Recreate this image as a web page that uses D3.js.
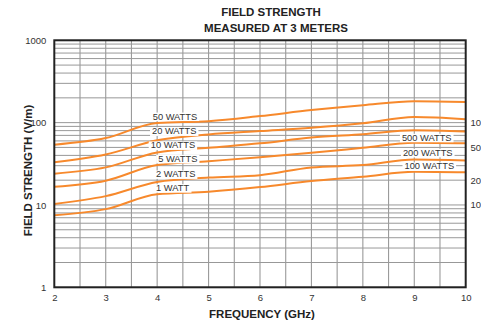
<!DOCTYPE html>
<html>
<head>
<meta charset="utf-8">
<script src="https://cdn.jsdelivr.net/npm/d3@7"></script>
<style>
  body { margin: 0; background: #fff; }
  svg { display: block; font-family: "Liberation Sans", Arial, Helvetica, sans-serif; }
</style>
</head>
<body>
<svg id="chart" width="481" height="325"></svg>
<script>
// ---- data ----
const frequencies = [2, 3, 4, 5, 6, 7, 8, 9, 10];
const seriesNames = ["50 WATTS", "20 WATTS", "10 WATTS", "5 WATTS", "2 WATTS", "1 WATT"];
const watts50 = [54, 65, 99, 104, 120, 142, 163, 182, 178];
const watts20 = [33, 41, 61, 72, 79, 86.5, 98, 117, 110];
const watts10 = [24, 28.6, 43.5, 49.5, 56, 66, 72.5, 81, 78];
const watts5  = [16.6, 19.7, 30.5, 34, 38, 43, 49.5, 57, 56];
const watts2  = [10.3, 12.8, 19, 21.5, 23, 28.6, 30.5, 35.7, 34.8];
const watts1  = [7.5, 8.9, 13.5, 14.5, 16.5, 19.5, 22, 25.3, 24.9];
const seriesValues = [watts50, watts20, watts10, watts5, watts2, watts1];

// label anchors in data units (GHz, V/m)
const leftLabelFreq  = [3.914, 3.90, 3.875, 4.02, 3.98, 3.98];
const leftLabelValue = [109, 71.9, 48.6, 33.4, 21.6, 14.7];
const rightLabels      = ["500 WATTS", "200 WATTS", "100 WATTS"];
const rightLabelFreq   = [8.76, 8.78, 8.81];
const rightLabelValue  = [60.2, 39.5, 27];

const xTicks = [2, 3, 4, 5, 6, 7, 8, 9, 10];
const yTicks = [1, 10, 100, 1000];
const yTickLabels = ["1", "10", "100", "1000"];
const rightTicks = [100, 50, 20, 10];
const rightTickLabels = ["10", "50", "20", "10"];

const titleLines = ["FIELD STRENGTH", "MEASURED AT 3 METERS"];
const xTitle = "FREQUENCY (GHz)";
const yTitle = "FIELD STRENGTH (V/m)";

// ---- layout ----
const svg = d3.select("#chart");
const pLeft = 54.3, pRight = 465.7, pTop = 40.3, pBottom = 287.3;

const x = d3.scaleLinear().domain([2, 10]).range([pLeft, pRight]);
const y = d3.scaleLog().domain([1, 1000]).range([pBottom, pTop]);

const orange = "#f7892c";
const grid = "#8c8c8c";

// horizontal grid (log)
const hLines = [];
for (let d = 0; d < 3; d++) for (let k = 1; k <= 9; k++) hLines.push(k * Math.pow(10, d));
hLines.push(1000);
svg.append("g").selectAll("line").data(hLines).join("line")
  .attr("x1", pLeft).attr("x2", pRight)
  .attr("y1", d => y(d)).attr("y2", d => y(d))
  .attr("stroke", grid).attr("stroke-width", 0.9);

// vertical grid each 0.5 GHz
const vLines = d3.range(2.5, 10, 0.5);
svg.append("g").selectAll("line").data(vLines).join("line")
  .attr("x1", d => x(d)).attr("x2", d => x(d))
  .attr("y1", pTop).attr("y2", pBottom)
  .attr("stroke", "#9a9a9a").attr("stroke-width", 1.1);

// curves
const line = d3.line()
  .x((d, i) => x(frequencies[i]))
  .y(d => y(d))
  .curve(d3.curveMonotoneX);
svg.append("g").selectAll("path").data(seriesValues).join("path")
  .attr("d", line)
  .attr("fill", "none")
  .attr("stroke", orange)
  .attr("stroke-width", 2);

// labels with white boxes
function addLabel(g, text, fx, vy) {
  const t = g.append("text")
    .attr("x", x(fx)).attr("y", y(vy))
    .attr("font-size", 9.3).attr("fill", "#333")
    .text(text);
  const bb = t.node().getBBox();
  g.insert("rect", "text")
    .attr("x", bb.x - 2).attr("y", bb.y + 1)
    .attr("width", bb.width + 4).attr("height", bb.height - 1.5)
    .attr("fill", "#fff");
}
seriesNames.forEach((n, i) => {
  const g = svg.append("g");
  addLabel(g, n, leftLabelFreq[i], leftLabelValue[i]);
});
rightLabels.forEach((n, i) => {
  const g = svg.append("g");
  addLabel(g, n, rightLabelFreq[i], rightLabelValue[i]);
});

// frame
svg.append("rect")
  .attr("x", pLeft).attr("y", pTop)
  .attr("width", pRight - pLeft).attr("height", pBottom - pTop)
  .attr("fill", "none").attr("stroke", "#222").attr("stroke-width", 2);

// axes
const xAxis = d3.axisBottom(x).tickValues(xTicks).tickSize(0).tickPadding(7).tickFormat(d3.format("d"));
const gx = svg.append("g").attr("transform", `translate(0,${pBottom})`).call(xAxis);
gx.select(".domain").remove();
gx.selectAll("text").attr("font-size", 9.5).attr("fill", "#333").attr("font-family", null);

const yAxis = d3.axisLeft(y).tickValues(yTicks).tickSize(0).tickPadding(8)
  .tickFormat((d, i) => yTickLabels[i]);
const gy = svg.append("g").attr("transform", `translate(${pLeft},0)`).call(yAxis);
gy.select(".domain").remove();
gy.selectAll("text").attr("font-size", 9.5).attr("fill", "#333").attr("font-family", null);

// right-side scale labels (as seen at the picture's edge)
const gr = svg.append("g");
gr.selectAll("text").data(rightTicks).join("text")
  .attr("x", 470.5).attr("y", d => y(d)).attr("dy", "0.35em")
  .attr("font-size", 9.5).attr("fill", "#333")
  .text((d, i) => rightTickLabels[i]);

// titles
svg.append("text").attr("x", 271).attr("y", 15.7).attr("text-anchor", "middle")
  .attr("font-size", 11.5).attr("font-weight", "bold").attr("fill", "#222").text(titleLines[0]);
svg.append("text").attr("x", 276).attr("y", 31.5).attr("text-anchor", "middle")
  .attr("font-size", 11.5).attr("font-weight", "bold").attr("fill", "#222").text(titleLines[1]);
svg.append("text").attr("x", 262).attr("y", 318).attr("text-anchor", "middle")
  .attr("font-size", 11.5).attr("font-weight", "bold").attr("fill", "#222").text(xTitle);
svg.append("text").attr("transform", "translate(31.5,170.5) rotate(-90)").attr("text-anchor", "middle")
  .attr("font-size", 11.5).attr("font-weight", "bold").attr("fill", "#222").text(yTitle);
</script>
</body>
</html>
